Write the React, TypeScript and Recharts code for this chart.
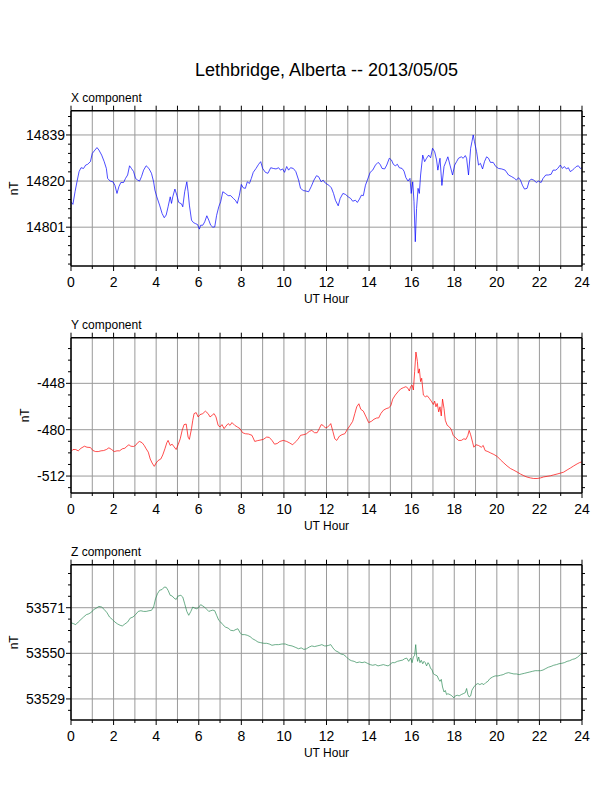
import React from 'react';
import { LineChart, Line, XAxis, YAxis, CartesianGrid, ReferenceLine } from 'recharts';

const HOURS: number[] = [0, 1, 2, 3, 4, 5, 6, 7, 8, 9, 10, 11, 12, 13, 14, 15, 16, 17, 18, 19, 20, 21, 22, 23, 24];
const HOUR_LABELS: number[] = [0, 2, 4, 6, 8, 10, 12, 14, 16, 18, 20, 22, 24];

const TITLE = 'Lethbridge, Alberta -- 2013/05/05';

const X_DATA: [number, number][] = [
  [0, 14811.5], [0.09, 14810.4], [0.19, 14815.6], [0.28, 14819.7], [0.38, 14823.9], [0.47, 14825.5], [0.59, 14825.2], [0.69, 14826.6], [0.78, 14826.9], [0.91, 14828],
  [1.0, 14831.4], [1.09, 14832.4], [1.22, 14833.8], [1.31, 14832.8], [1.44, 14830.7], [1.56, 14828], [1.66, 14825.2], [1.72, 14821.1], [1.84, 14820], [1.97, 14819.7],
  [2.06, 14818.3], [2.16, 14814.9], [2.25, 14817.7], [2.34, 14819.4], [2.47, 14819.4], [2.56, 14821.1], [2.66, 14822.5], [2.75, 14826.3], [2.84, 14825.2], [2.94, 14823.9],
  [3.03, 14821.1], [3.13, 14820.4], [3.22, 14820], [3.31, 14821.8], [3.41, 14824.5], [3.53, 14826.3], [3.66, 14825.2], [3.78, 14823.2], [3.88, 14819.7], [3.94, 14816.3],
  [4.03, 14813.5], [4.16, 14810.1], [4.28, 14806.6], [4.38, 14804.9], [4.47, 14806], [4.56, 14809.4], [4.66, 14813.5], [4.72, 14810.8], [4.78, 14813.5], [4.88, 14816.7],
  [4.97, 14814.2], [5.06, 14811.2], [5.19, 14810.6], [5.25, 14809.4], [5.34, 14815.6], [5.44, 14819.7], [5.5, 14815.6], [5.56, 14810.1], [5.66, 14803.9], [5.75, 14802.9],
  [5.84, 14802.5], [5.94, 14802.1], [6.03, 14800.2], [6.09, 14801.8], [6.19, 14801.8], [6.28, 14803.2], [6.38, 14805.7], [6.47, 14803.9], [6.56, 14801.8], [6.66, 14801],
  [6.75, 14801.1], [6.84, 14805.9], [6.94, 14809.4], [7.03, 14811.5], [7.13, 14815.6], [7.25, 14814.9], [7.38, 14814], [7.5, 14814], [7.63, 14812.8], [7.72, 14812.1],
  [7.81, 14810.8], [7.91, 14814.2], [8.0, 14818.6], [8.09, 14817.2], [8.19, 14817], [8.28, 14819.7], [8.38, 14819], [8.47, 14821.1], [8.56, 14823.6], [8.69, 14825.2],
  [8.81, 14826.9], [8.91, 14828], [9.0, 14825.2], [9.13, 14823.6], [9.25, 14823.2], [9.38, 14825.5], [9.5, 14825.2], [9.63, 14825], [9.75, 14825.5], [9.84, 14824.5],
  [9.94, 14825], [10.03, 14823.6], [10.13, 14826], [10.22, 14824.5], [10.31, 14825.5], [10.44, 14825.2], [10.56, 14823.9], [10.69, 14820.4], [10.78, 14817], [10.91, 14816.1],
  [11.03, 14815.9], [11.16, 14815.6], [11.28, 14817.7], [11.41, 14820.4], [11.53, 14822.2], [11.63, 14821.8], [11.75, 14819.7], [11.84, 14820.4], [11.94, 14819.2],
  [12.11, 14818.3], [12.23, 14817.2], [12.33, 14814.9], [12.42, 14812.1], [12.55, 14809.8], [12.64, 14812.8], [12.77, 14814.9], [12.89, 14814.5], [13.02, 14813.5],
  [13.14, 14812.8], [13.23, 14811.7], [13.36, 14812.1], [13.45, 14811.2], [13.55, 14812.6], [13.64, 14814.2], [13.73, 14814], [13.83, 14818.3], [13.92, 14820.4],
  [14.05, 14823.6], [14.17, 14824.5], [14.3, 14826.6], [14.42, 14827.7], [14.52, 14826.9], [14.61, 14825.2], [14.73, 14825], [14.83, 14826.6], [14.95, 14829.4],
  [15.05, 14828.7], [15.14, 14826.9], [15.23, 14826.3], [15.33, 14826.9], [15.42, 14825.5], [15.55, 14825.2], [15.64, 14824.1], [15.73, 14821.4], [15.83, 14820],
  [15.92, 14821.1], [15.98, 14814.9], [16.05, 14819.7], [16.11, 14811.5], [16.17, 14795], [16.23, 14808.7], [16.3, 14817], [16.36, 14814.9], [16.42, 14822.5],
  [16.52, 14830.7], [16.61, 14828], [16.7, 14829.4], [16.8, 14830.7], [16.89, 14829.6], [16.98, 14833.5], [17.08, 14832.1], [17.17, 14828.7], [17.23, 14824.5],
  [17.33, 14829.4], [17.42, 14818.2], [17.52, 14826], [17.61, 14828], [17.7, 14830], [17.8, 14826.6], [17.92, 14822.5], [18.02, 14826.6], [18.11, 14828],
  [18.2, 14829.4], [18.33, 14830], [18.42, 14829.4], [18.52, 14830.5], [18.58, 14829.4], [18.67, 14822.5], [18.77, 14833.5], [18.83, 14836.2], [18.89, 14839],
  [18.95, 14836.2], [19.05, 14832.1], [19.14, 14826.6], [19.23, 14827.3], [19.33, 14825], [19.42, 14828], [19.52, 14830], [19.61, 14829.4], [19.7, 14827.7],
  [19.83, 14827.7], [19.95, 14826], [20.08, 14825.2], [20.23, 14825], [20.39, 14824.5], [20.55, 14822.5], [20.7, 14821.8], [20.83, 14821.1], [20.92, 14820.4],
  [21.02, 14821.4], [21.11, 14820.4], [21.2, 14818.3], [21.3, 14816.7], [21.42, 14817], [21.52, 14820], [21.61, 14820.8], [21.73, 14820.4], [21.86, 14819.4],
  [21.95, 14820], [22.08, 14819.4], [22.17, 14821.1], [22.3, 14822.5], [22.42, 14822.5], [22.55, 14822.8], [22.64, 14824.5], [22.77, 14824.5], [22.86, 14825.2],
  [22.98, 14826.6], [23.08, 14825.2], [23.17, 14826], [23.27, 14825], [23.36, 14825.5], [23.45, 14823.9], [23.55, 14824.5], [23.64, 14825.2], [23.73, 14826],
  [23.83, 14826.3], [23.92, 14825.2], [24, 14825.5],
];

const Y_DATA: [number, number][] = [
  [0, -495.1], [0.09, -493.7], [0.22, -493.7], [0.34, -494.6], [0.47, -492.8], [0.63, -491.4], [0.75, -492.1], [0.91, -492.3], [1.03, -494.4], [1.16, -495.1],
  [1.28, -495.1], [1.41, -494.6], [1.53, -494.4], [1.66, -493.7], [1.78, -492.5], [1.91, -493.7], [2.03, -495.1], [2.16, -494.6], [2.28, -494.6], [2.41, -493.2],
  [2.53, -492.8], [2.63, -491.4], [2.72, -490.4], [2.81, -491.4], [2.94, -491.6], [3.03, -490.9], [3.13, -489], [3.22, -488.1], [3.34, -489], [3.44, -490.9],
  [3.53, -493.2], [3.63, -495.5], [3.72, -500.2], [3.81, -503], [3.91, -505.3], [4.0, -503], [4.09, -501.3], [4.22, -500.2], [4.31, -497.4], [4.41, -493.2],
  [4.5, -489], [4.56, -487.4], [4.66, -490.9], [4.75, -490], [4.84, -491.8], [4.94, -493.7], [5.03, -490.4], [5.13, -486.3], [5.22, -480.5], [5.31, -476.5],
  [5.41, -476.1], [5.5, -485.1], [5.56, -486.7], [5.66, -479.3], [5.72, -473.5], [5.78, -468.9], [5.88, -468.2], [5.97, -471.2], [6.06, -469.6], [6.19, -468.9],
  [6.31, -467.2], [6.44, -468.9], [6.53, -471.2], [6.63, -470], [6.72, -468.9], [6.81, -471.2], [6.91, -477], [7.0, -478.1], [7.09, -476.5], [7.19, -479.3],
  [7.28, -477.5], [7.38, -475.8], [7.47, -477], [7.56, -475.1], [7.69, -477], [7.81, -478.1], [7.94, -479.3], [8.06, -482.1], [8.19, -482.8], [8.34, -483],
  [8.5, -483.9], [8.63, -488.1], [8.75, -487.6], [8.88, -487.2], [9.03, -486.7], [9.19, -485.1], [9.31, -485.3], [9.44, -487.4], [9.56, -490], [9.69, -489.5],
  [9.81, -488.1], [9.97, -487.4], [10.13, -488.1], [10.25, -489], [10.41, -490.4], [10.53, -488.6], [10.66, -486.7], [10.78, -483.9], [10.94, -483.4], [11.06, -482.8],
  [11.19, -481.2], [11.31, -480.5], [11.44, -482.1], [11.56, -482.1], [11.66, -479.3], [11.75, -476.5], [11.84, -477], [11.95, -478.8], [12.05, -478.1], [12.14, -477],
  [12.2, -475.8], [12.3, -481.2], [12.39, -486.3], [12.48, -487.4], [12.61, -484.4], [12.73, -483.4], [12.86, -482.8], [12.98, -479.8], [13.11, -477], [13.23, -474.2],
  [13.33, -468.9], [13.42, -464.2], [13.52, -462.1], [13.61, -465.9], [13.73, -467.2], [13.86, -471.2], [13.98, -475.1], [14.11, -474.2], [14.23, -472.8], [14.36, -471.9],
  [14.45, -471.9], [14.55, -468.9], [14.67, -466.6], [14.8, -465.5], [14.92, -464.9], [15.02, -463.5], [15.11, -458.9], [15.23, -456.1], [15.36, -453.8], [15.48, -451.9],
  [15.61, -451], [15.73, -450.3], [15.83, -451.5], [15.89, -453.3], [15.95, -450.3], [16.02, -449.2], [16.08, -452.6], [16.14, -439.9], [16.2, -426.4], [16.27, -432.9],
  [16.31, -441], [16.36, -438], [16.42, -446.8], [16.47, -444.5], [16.55, -456.1], [16.64, -457.3], [16.73, -456.6], [16.83, -458.4], [16.92, -460.3], [17.02, -462.6],
  [17.08, -460.3], [17.14, -464.2], [17.2, -461.9], [17.27, -467.7], [17.33, -464.2], [17.39, -470.5], [17.45, -458.9], [17.52, -465.4], [17.58, -473.5], [17.67, -477],
  [17.77, -478.1], [17.86, -479.8], [17.95, -483.9], [18.08, -485.8], [18.2, -487.4], [18.33, -487.4], [18.45, -486.3], [18.55, -486.7], [18.64, -483.9], [18.7, -480.5],
  [18.77, -483.5], [18.86, -488.6], [18.92, -492.1], [19.02, -490.4], [19.14, -490.9], [19.27, -492.1], [19.36, -490.9], [19.45, -494.4], [19.58, -495.1], [19.7, -496],
  [19.86, -497.1], [20.02, -498.5], [20.17, -500.8], [20.33, -503], [20.48, -505], [20.64, -506.8], [20.8, -508], [20.95, -509.2], [21.11, -510.6], [21.27, -511.8],
  [21.42, -512.7], [21.58, -513.3], [21.73, -513.7], [21.89, -513.7], [22.05, -513.3], [22.2, -512.6], [22.36, -512.2], [22.52, -511.8], [22.67, -511.2], [22.83, -510.6],
  [22.98, -510], [23.14, -509.3], [23.3, -507.8], [23.45, -506.5], [23.61, -505], [23.77, -503.6], [23.89, -502.7], [24, -502.2],
];

const Z_DATA: [number, number][] = [
  [0, 53564.1], [0.13, 53563.6], [0.22, 53563.2], [0.34, 53564.4], [0.47, 53565.6], [0.59, 53566.7], [0.72, 53567.8], [0.84, 53568.2], [0.97, 53569], [1.06, 53570.1],
  [1.19, 53570.8], [1.31, 53571.6], [1.44, 53571.3], [1.56, 53570.2], [1.69, 53568.7], [1.81, 53566.7], [1.94, 53565.6], [2.06, 53564.4], [2.19, 53563.5], [2.31, 53562.9],
  [2.41, 53562.6], [2.53, 53563.5], [2.66, 53564.4], [2.78, 53566.2], [2.91, 53566.7], [3.03, 53567.8], [3.16, 53569.3], [3.28, 53569.6], [3.41, 53569.3], [3.53, 53569.3],
  [3.66, 53569.6], [3.78, 53569.8], [3.88, 53571.3], [3.97, 53575.1], [4.06, 53577.4], [4.16, 53579], [4.28, 53579.4], [4.38, 53580.5], [4.47, 53580.4], [4.56, 53579],
  [4.66, 53576.7], [4.75, 53576.4], [4.84, 53575.4], [4.94, 53574.8], [5.03, 53576.4], [5.16, 53576.7], [5.25, 53575.9], [5.34, 53572.8], [5.44, 53569.3], [5.53, 53567.5],
  [5.63, 53569.3], [5.72, 53571.3], [5.81, 53570.8], [5.91, 53570.5], [6.0, 53571.2], [6.09, 53572.4], [6.19, 53571.8], [6.28, 53571.2], [6.38, 53570.2], [6.47, 53569.3],
  [6.56, 53569.6], [6.66, 53569.9], [6.75, 53569.6], [6.84, 53567.5], [6.94, 53565.2], [7.03, 53564.4], [7.13, 53563.2], [7.25, 53562.1], [7.38, 53561.6], [7.5, 53560.6],
  [7.63, 53560.4], [7.75, 53561], [7.84, 53561.3], [7.94, 53559.5], [8.03, 53558.6], [8.16, 53558.6], [8.28, 53558.3], [8.41, 53557.7], [8.53, 53556.7], [8.66, 53556],
  [8.78, 53555.2], [8.91, 53554.9], [9.06, 53554.6], [9.19, 53554.6], [9.31, 53554.3], [9.44, 53553.7], [9.59, 53554], [9.75, 53554], [9.91, 53554.3], [10.06, 53554.3],
  [10.22, 53553.7], [10.38, 53553.4], [10.53, 53552.8], [10.69, 53552.1], [10.81, 53552.5], [10.94, 53551.8], [11.06, 53552.1], [11.19, 53552.9], [11.31, 53553.4], [11.44, 53553.1],
  [11.56, 53553.4], [11.69, 53553.7], [11.78, 53554], [11.91, 53553.4], [12.0, 53553.4], [12.11, 53553.7], [12.2, 53554], [12.3, 53552.5], [12.42, 53551.2], [12.55, 53550.6],
  [12.67, 53549.7], [12.8, 53549.4], [12.92, 53548.5], [13.05, 53547.2], [13.17, 53546.6], [13.3, 53546.3], [13.42, 53545.7], [13.55, 53546], [13.67, 53545.7], [13.8, 53546],
  [13.92, 53545.4], [14.05, 53544.8], [14.17, 53544.5], [14.3, 53544.8], [14.42, 53544.2], [14.55, 53544.5], [14.67, 53544.8], [14.77, 53544.5], [14.89, 53544.2], [14.98, 53544.8],
  [15.08, 53545.7], [15.2, 53545.7], [15.33, 53546.3], [15.45, 53546.6], [15.58, 53546.9], [15.67, 53547.5], [15.77, 53547.8], [15.86, 53546.3], [15.95, 53547.8], [16.02, 53545.7],
  [16.08, 53548.3], [16.14, 53549.1], [16.19, 53554], [16.23, 53549.1], [16.28, 53546.3], [16.33, 53548.3], [16.39, 53545.7], [16.45, 53546.8], [16.52, 53545.2], [16.58, 53546.3],
  [16.64, 53545.7], [16.7, 53544.2], [16.77, 53545.7], [16.83, 53544.8], [16.89, 53543], [16.95, 53542.6], [17.02, 53540.6], [17.08, 53540.2], [17.14, 53539.9], [17.2, 53539.6],
  [17.27, 53538], [17.33, 53537.1], [17.39, 53538], [17.45, 53534.5], [17.52, 53532.2], [17.58, 53532.9], [17.64, 53531], [17.7, 53531.4], [17.8, 53531], [17.89, 53530.4],
  [17.98, 53529.5], [18.05, 53530.4], [18.14, 53530.7], [18.23, 53530.4], [18.33, 53531], [18.42, 53531.4], [18.52, 53531.9], [18.58, 53533.8], [18.64, 53531], [18.7, 53529.9],
  [18.77, 53530.4], [18.83, 53533], [18.92, 53534.5], [19.02, 53535.6], [19.11, 53536.1], [19.2, 53535.6], [19.3, 53536.1], [19.39, 53535.6], [19.48, 53536.5], [19.58, 53537.1],
  [19.67, 53538.3], [19.8, 53539.1], [19.92, 53539.6], [20.05, 53539.6], [20.17, 53539.9], [20.3, 53540.2], [20.42, 53540.8], [20.55, 53541.1], [20.67, 53540.8], [20.8, 53540.5],
  [20.92, 53540.5], [21.05, 53540.2], [21.17, 53540.5], [21.3, 53540.8], [21.42, 53541.1], [21.55, 53541.4], [21.67, 53541.7], [21.8, 53542], [21.92, 53542], [22.05, 53542],
  [22.17, 53542.3], [22.3, 53543], [22.42, 53543.6], [22.55, 53544], [22.67, 53544.5], [22.8, 53544.8], [22.92, 53545.2], [23.05, 53545.4], [23.17, 53545.7], [23.3, 53546.3],
  [23.42, 53546.6], [23.55, 53547.2], [23.67, 53547.5], [23.8, 53548.3], [23.92, 53549.4], [24, 53549.8],
];

const X_MAJOR: number[] = [14801, 14820, 14839];
const X_MINOR: number[] = [14785.8, 14789.6, 14793.4, 14797.2, 14804.8, 14808.6, 14812.4, 14816.2, 14823.8, 14827.6, 14831.4, 14835.2, 14842.8, 14846.6];
const X_DOMAIN: [number, number] = [14785, 14849];

const Y_MAJOR: number[] = [-512, -480, -448];
const Y_MINOR: number[] = [-520, -504, -496, -488, -472, -464, -456, -440, -432, -424];
const Y_DOMAIN: [number, number] = [-523.7, -416.5];

const Z_MAJOR: number[] = [53529, 53550, 53571];
const Z_MINOR: number[] = [53523.75, 53534.25, 53539.5, 53544.75, 53555.25, 53560.5, 53565.75, 53576.25, 53581.5, 53586.75];
const Z_DOMAIN: [number, number] = [53519.3, 53590.8];

const FONT = '"Liberation Sans", Arial, Helvetica, sans-serif';

const CHART_W = 612;
const CHART_H = 240;
const MARGIN = { top: 20.7, right: 20, bottom: 14, left: 11 };
const LEFT_W = 60;
const RIGHT_W = 10;
const TOP_H = 10;
const BOTTOM_H = 40;
const PLOT_LEFT = MARGIN.left + LEFT_W;
const PLOT_RIGHT = CHART_W - MARGIN.right - RIGHT_W;
const PLOT_TOP = MARGIN.top + TOP_H;
const PLOT_BOTTOM = CHART_H - MARGIN.bottom - BOTTOM_H;

const GRID = '#9a9a9a';

type PanelProps = {
  top: number;
  data: [number, number][];
  color: string;
  domain: [number, number];
  major: number[];
  minor: number[];
};

function Panel({ top, data, color, domain, major, minor }: PanelProps) {
  const rows = data.map(([h, v]) => ({ h, v }));
  const ticks = [...minor, ...major].sort((a, b) => a - b);
  const isMajor = (v: number) => major.indexOf(v) >= 0;
  const isLabel = (v: number) => HOUR_LABELS.indexOf(v) >= 0;

  const bottomTick = (p: any) => {
    const v = p.payload.value;
    const lab = isLabel(v);
    return (
      <g>
        <line x1={p.x} x2={p.x} y1={p.y} y2={p.y + (lab ? 5 : 3)} stroke="#000" strokeWidth={1} />
        {lab && (
          <text x={p.x} y={p.y + 21} textAnchor="middle" fontSize={14} fontFamily={FONT} fill="#000">
            {v}
          </text>
        )}
      </g>
    );
  };
  const topTick = (p: any) => (
    <line x1={p.x} x2={p.x} y1={p.y} y2={p.y - 5} stroke="#000" strokeWidth={1} />
  );
  const leftTick = (p: any) => {
    const v = p.payload.value;
    const m = isMajor(v);
    return (
      <g>
        <line x1={p.x - (m ? 5 : 3)} x2={p.x} y1={p.y} y2={p.y} stroke="#000" strokeWidth={1} />
        {m && (
          <text x={p.x - 6} y={p.y + 5} textAnchor="end" fontSize={14} fontFamily={FONT} fill="#000">
            {v}
          </text>
        )}
      </g>
    );
  };
  const rightTick = (p: any) => {
    const m = isMajor(p.payload.value);
    return <line x1={p.x} x2={p.x + (m ? 5 : 3)} y1={p.y} y2={p.y} stroke="#000" strokeWidth={1} />;
  };

  const axisLine = { stroke: '#000', strokeWidth: 1.5 };

  return (
    <div style={{ position: 'absolute', left: 0, top, width: CHART_W, height: CHART_H }}>
      <LineChart width={CHART_W} height={CHART_H} data={rows} margin={MARGIN}>
        <CartesianGrid horizontal={false} vertical={true} stroke={GRID} strokeWidth={1} />
        {major.map((m) => (
          <ReferenceLine key={m} y={m} stroke={GRID} strokeWidth={1} />
        ))}
        <XAxis
          dataKey="h"
          type="number"
          domain={[0, 24]}
          ticks={HOURS}
          interval={0}
          allowDataOverflow
          height={BOTTOM_H}
          tickLine={false}
          tickSize={0}
          tickMargin={0}
          axisLine={axisLine}
          tick={bottomTick}
        />
        <XAxis
          xAxisId="top"
          orientation="top"
          dataKey="h"
          type="number"
          domain={[0, 24]}
          ticks={HOURS}
          interval={0}
          allowDataOverflow
          height={TOP_H}
          tickLine={false}
          tickSize={0}
          tickMargin={0}
          axisLine={axisLine}
          tick={topTick}
        />
        <YAxis
          type="number"
          domain={domain}
          ticks={ticks}
          interval={0}
          allowDataOverflow
          width={LEFT_W}
          tickLine={false}
          tickSize={0}
          tickMargin={0}
          axisLine={axisLine}
          tick={leftTick}
        />
        <YAxis
          yAxisId="right"
          orientation="right"
          dataKey="v"
          type="number"
          domain={domain}
          ticks={ticks}
          interval={0}
          allowDataOverflow
          width={RIGHT_W}
          tickLine={false}
          tickSize={0}
          tickMargin={0}
          axisLine={axisLine}
          tick={rightTick}
        />
        <Line
          dataKey="v"
          type="linear"
          stroke={color}
          strokeWidth={0.7}
          dot={false}
          activeDot={false}
          isAnimationActive={false}
        />
      </LineChart>
    </div>
  );
}

const PANEL_TOPS = [80, 307, 534];
const PANEL_NAMES = ['X component', 'Y component', 'Z component'];
const NT_X = [18.5, 29.5, 18.5];

export default function App() {
  return (
    <div style={{ position: 'absolute', left: 0, top: 0, width: 612, height: 792, background: '#fff' }}>
      <Panel top={PANEL_TOPS[0]} data={X_DATA} color="#0000ff" domain={X_DOMAIN} major={X_MAJOR} minor={X_MINOR} />
      <Panel top={PANEL_TOPS[1]} data={Y_DATA} color="#ff0000" domain={Y_DOMAIN} major={Y_MAJOR} minor={Y_MINOR} />
      <Panel top={PANEL_TOPS[2]} data={Z_DATA} color="#2e8b57" domain={Z_DOMAIN} major={Z_MAJOR} minor={Z_MINOR} />
      <svg
        width={612}
        height={792}
        style={{ position: 'absolute', left: 0, top: 0, pointerEvents: 'none' }}
        fontFamily={FONT}
      >
        <text x={(PLOT_LEFT + PLOT_RIGHT) / 2} y={76} textAnchor="middle" fontSize={18} fill="#000">
          {TITLE}
        </text>
        {PANEL_TOPS.map((t, i) => {
          const pTop = t + PLOT_TOP;
          const pBot = t + PLOT_BOTTOM;
          const cy = (pTop + pBot) / 2;
          return (
            <g key={i}>
              <text x={PLOT_LEFT} y={pTop - 8.7} fontSize={12} fill="#000">
                {PANEL_NAMES[i]}
              </text>
              <text x={(PLOT_LEFT + PLOT_RIGHT) / 2} y={pBot + 36.5} textAnchor="middle" fontSize={12} fill="#000">
                UT Hour
              </text>
              <text
                x={NT_X[i]}
                y={cy}
                textAnchor="middle"
                fontSize={12}
                fill="#000"
                transform={`rotate(-90 ${NT_X[i]} ${cy})`}
              >
                nT
              </text>
            </g>
          );
        })}
      </svg>
    </div>
  );
}
